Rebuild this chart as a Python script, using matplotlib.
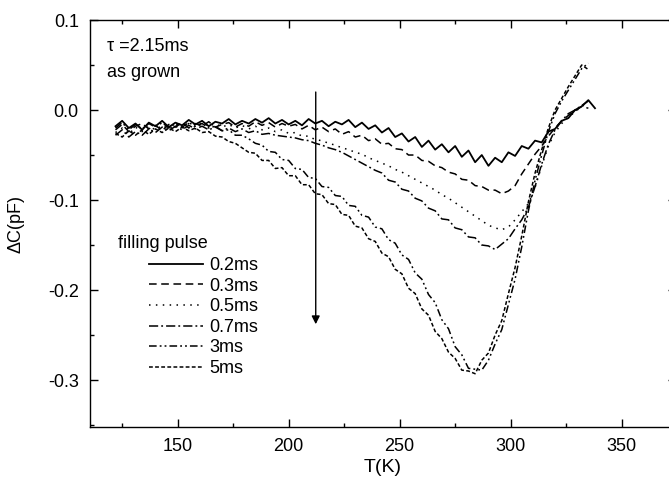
# DLTS spectra for different filling pulse widths
import numpy as np
import matplotlib.pyplot as plt
from matplotlib.ticker import MultipleLocator, FormatStrFormatter

plt.rcParams['font.family'] = ['Liberation Sans', 'DejaVu Sans']
plt.rcParams['axes.unicode_minus'] = False

# temperature grid (K)
temp = [122, 125, 128, 131, 134, 137, 140, 143, 146, 149,
        152, 155, 158, 161, 164, 167, 170, 173, 176, 179,
        182, 185, 188, 191, 194, 197, 200, 203, 206, 209,
        212, 215, 218, 221, 224, 227, 230, 233, 236, 239,
        242, 245, 248, 251, 254, 257, 260, 263, 266, 269,
        272, 275, 278, 281, 284, 287, 290, 293, 296, 299,
        302, 305, 308, 311, 314, 317, 320, 323, 326, 329,
        332, 335, 338]

nan = np.nan

# capacitance transients dC (pF), one list per filling pulse
dc_02 = [-0.018, -0.012, -0.020, -0.015, -0.022, -0.014, -0.018, -0.012, -0.019, -0.014,
         -0.017, -0.011, -0.016, -0.012, -0.018, -0.013, -0.015, -0.010, -0.016, -0.012,
         -0.015, -0.010, -0.014, -0.009, -0.015, -0.011, -0.016, -0.012, -0.017, -0.010,
         -0.015, -0.012, -0.018, -0.013, -0.016, -0.011, -0.019, -0.014, -0.021, -0.017,
         -0.025, -0.020, -0.030, -0.026, -0.035, -0.030, -0.041, -0.034, -0.044, -0.038,
         -0.047, -0.040, -0.052, -0.045, -0.058, -0.050, -0.062, -0.053, -0.058, -0.047,
         -0.051, -0.040, -0.043, -0.034, -0.036, -0.024, -0.021, -0.012, -0.009, 0.000,
         0.004, 0.011, 0.002]

dc_03 = [-0.022, -0.016, -0.024, -0.018, -0.015, -0.021, -0.017, -0.023, -0.016, -0.019,
         -0.014, -0.020, -0.015, -0.018, -0.013, -0.019, -0.016, -0.014, -0.019, -0.015,
         -0.018, -0.013, -0.017, -0.014, -0.019, -0.015, -0.018, -0.016, -0.021, -0.017,
         -0.022, -0.019, -0.024, -0.021, -0.027, -0.024, -0.030, -0.028, -0.034, -0.032,
         -0.038, -0.037, -0.043, -0.044, -0.050, -0.050, -0.056, -0.057, -0.062, -0.064,
         -0.069, -0.071, -0.077, -0.078, -0.084, -0.085, -0.089, -0.089, -0.093, -0.090,
         -0.084, -0.071, -0.060, -0.049, -0.040, -0.029, -0.020, -0.012, -0.006, -0.001,
         0.004, 0.002, nan]

dc_05 = [-0.025, -0.020, -0.027, -0.019, -0.024, -0.018, -0.022, -0.017, -0.021, -0.016,
         -0.020, -0.015, -0.019, -0.014, -0.018, -0.015, -0.019, -0.016, -0.020, -0.017,
         -0.021, -0.018, -0.022, -0.020, -0.024, -0.022, -0.026, -0.025, -0.029, -0.029,
         -0.033, -0.034, -0.037, -0.039, -0.042, -0.044, -0.047, -0.049, -0.053, -0.056,
         -0.059, -0.062, -0.066, -0.069, -0.073, -0.077, -0.081, -0.085, -0.089, -0.094,
         -0.098, -0.103, -0.108, -0.113, -0.118, -0.123, -0.128, -0.131, -0.133, -0.130,
         -0.122, -0.113, -0.104, -0.086, -0.062, -0.040, -0.025, -0.015, -0.008, -0.002,
         0.004, 0.008, nan]

dc_07 = [-0.028, -0.022, -0.030, -0.024, -0.028, -0.021, -0.025, -0.019, -0.023, -0.018,
         -0.022, -0.017, -0.021, -0.018, -0.022, -0.019, -0.023, -0.020, -0.024, -0.021,
         -0.025, -0.023, -0.027, -0.026, -0.028, -0.029, -0.030, -0.031, -0.033, -0.034,
         -0.037, -0.039, -0.042, -0.044, -0.047, -0.051, -0.055, -0.059, -0.063, -0.067,
         -0.070, -0.078, -0.080, -0.088, -0.090, -0.098, -0.101, -0.109, -0.112, -0.121,
         -0.122, -0.131, -0.133, -0.141, -0.142, -0.150, -0.151, -0.155, -0.149, -0.143,
         -0.132, -0.122, -0.108, -0.085, -0.060, -0.038, -0.022, -0.012, -0.004, 0.000,
         0.005, 0.010, nan]

dc_3 = [-0.020, -0.014, -0.022, -0.016, -0.021, -0.015, -0.019, -0.014, -0.020, -0.015,
        -0.019, -0.014, -0.018, -0.015, -0.020, -0.018, -0.023, -0.022, -0.028, -0.028,
        -0.032, -0.037, -0.039, -0.046, -0.047, -0.055, -0.056, -0.065, -0.066, -0.075,
        -0.076, -0.085, -0.086, -0.095, -0.096, -0.106, -0.107, -0.117, -0.119, -0.130,
        -0.132, -0.144, -0.148, -0.161, -0.166, -0.181, -0.188, -0.205, -0.214, -0.233,
        -0.243, -0.263, -0.272, -0.287, -0.288, -0.289, -0.278, -0.260, -0.244, -0.216,
        -0.188, -0.152, -0.112, -0.078, -0.050, -0.024, -0.004, 0.010, 0.022, 0.034,
        0.046, 0.052, nan]

dc_5 = [-0.026, -0.030, -0.023, -0.028, -0.022, -0.027, -0.021, -0.025, -0.020, -0.024,
        -0.019, -0.023, -0.020, -0.025, -0.024, -0.029, -0.030, -0.035, -0.037, -0.042,
        -0.047, -0.048, -0.056, -0.056, -0.065, -0.064, -0.073, -0.073, -0.083, -0.083,
        -0.093, -0.094, -0.104, -0.105, -0.116, -0.117, -0.129, -0.131, -0.143, -0.146,
        -0.159, -0.163, -0.177, -0.182, -0.198, -0.204, -0.221, -0.228, -0.246, -0.254,
        -0.269, -0.276, -0.289, -0.290, -0.293, -0.278, -0.270, -0.250, -0.234, -0.204,
        -0.175, -0.140, -0.102, -0.070, -0.044, -0.020, 0.000, 0.013, 0.026, 0.038,
        0.050, 0.045, nan]

labels = ['0.2ms', '0.3ms', '0.5ms', '0.7ms', '3ms', '5ms']
series = [dc_02, dc_03, dc_05, dc_07, dc_3, dc_5]
styles = ['-', (0, (5, 3)), (0, (1, 3.5)), (0, (6, 2, 1.2, 2)),
          (0, (5, 2, 1.2, 2, 1.2, 2)), (0, (2.5, 1.5))]
widths = [1.3, 1.1, 1.1, 1.1, 1.1, 1.1]

fig = plt.figure(figsize=(6.69, 4.86), dpi=100)
ax = fig.add_axes([0.1345, 0.1214, 0.876, 0.8374])

lines = []
for vals, lab, ls, lw in zip(series, labels, styles, widths):
    ln, = ax.plot(temp, vals, color='black', linestyle=ls, linewidth=lw, label=lab)
    lines.append(ln)

ax.set_xlim(110.5, 374.5)
ax.set_ylim(-0.3522, 0.1)

ax.xaxis.set_major_locator(MultipleLocator(50))
ax.xaxis.set_minor_locator(MultipleLocator(25))
ax.yaxis.set_major_locator(MultipleLocator(0.1))
ax.yaxis.set_minor_locator(MultipleLocator(0.05))
ax.yaxis.set_major_formatter(FormatStrFormatter('%.1f'))

ax.tick_params(which='both', direction='in', top=True, right=True, width=1.0,
               labelsize=13)
ax.tick_params(which='major', length=5.8, pad=8)
ax.tick_params(which='minor', length=2.9)
for sp in ax.spines.values():
    sp.set_linewidth(1.0)

ax.set_xlabel('T(K)', fontsize=14, labelpad=3)
ax.set_ylabel('ΔC(pF)', fontsize=13, labelpad=17)

ax.text(0.029, 0.936, 'τ =2.15ms', transform=ax.transAxes, fontsize=13,
        ha='left', va='center')
ax.text(0.029, 0.870, 'as grown', transform=ax.transAxes, fontsize=13,
        ha='left', va='center')
ax.text(0.048, 0.452, 'filling pulse', transform=ax.transAxes, fontsize=13,
        ha='left', va='center')

# arrow showing increasing pulse width
ax.annotate('', xy=(212.2, -0.238), xytext=(212.2, 0.02),
            arrowprops=dict(arrowstyle='-|>', color='black', lw=1.0,
                            mutation_scale=12, shrinkA=0, shrinkB=0))

ax.legend(handles=lines, loc='upper left', frameon=False, fontsize=13,
          bbox_to_anchor=(149 / 669, 1 - 257 / 486),
          bbox_transform=fig.transFigure,
          borderpad=0, borderaxespad=0, handlelength=3.0,
          handletextpad=0.35, labelspacing=0.2)

fig.savefig('out.png', dpi=100)
